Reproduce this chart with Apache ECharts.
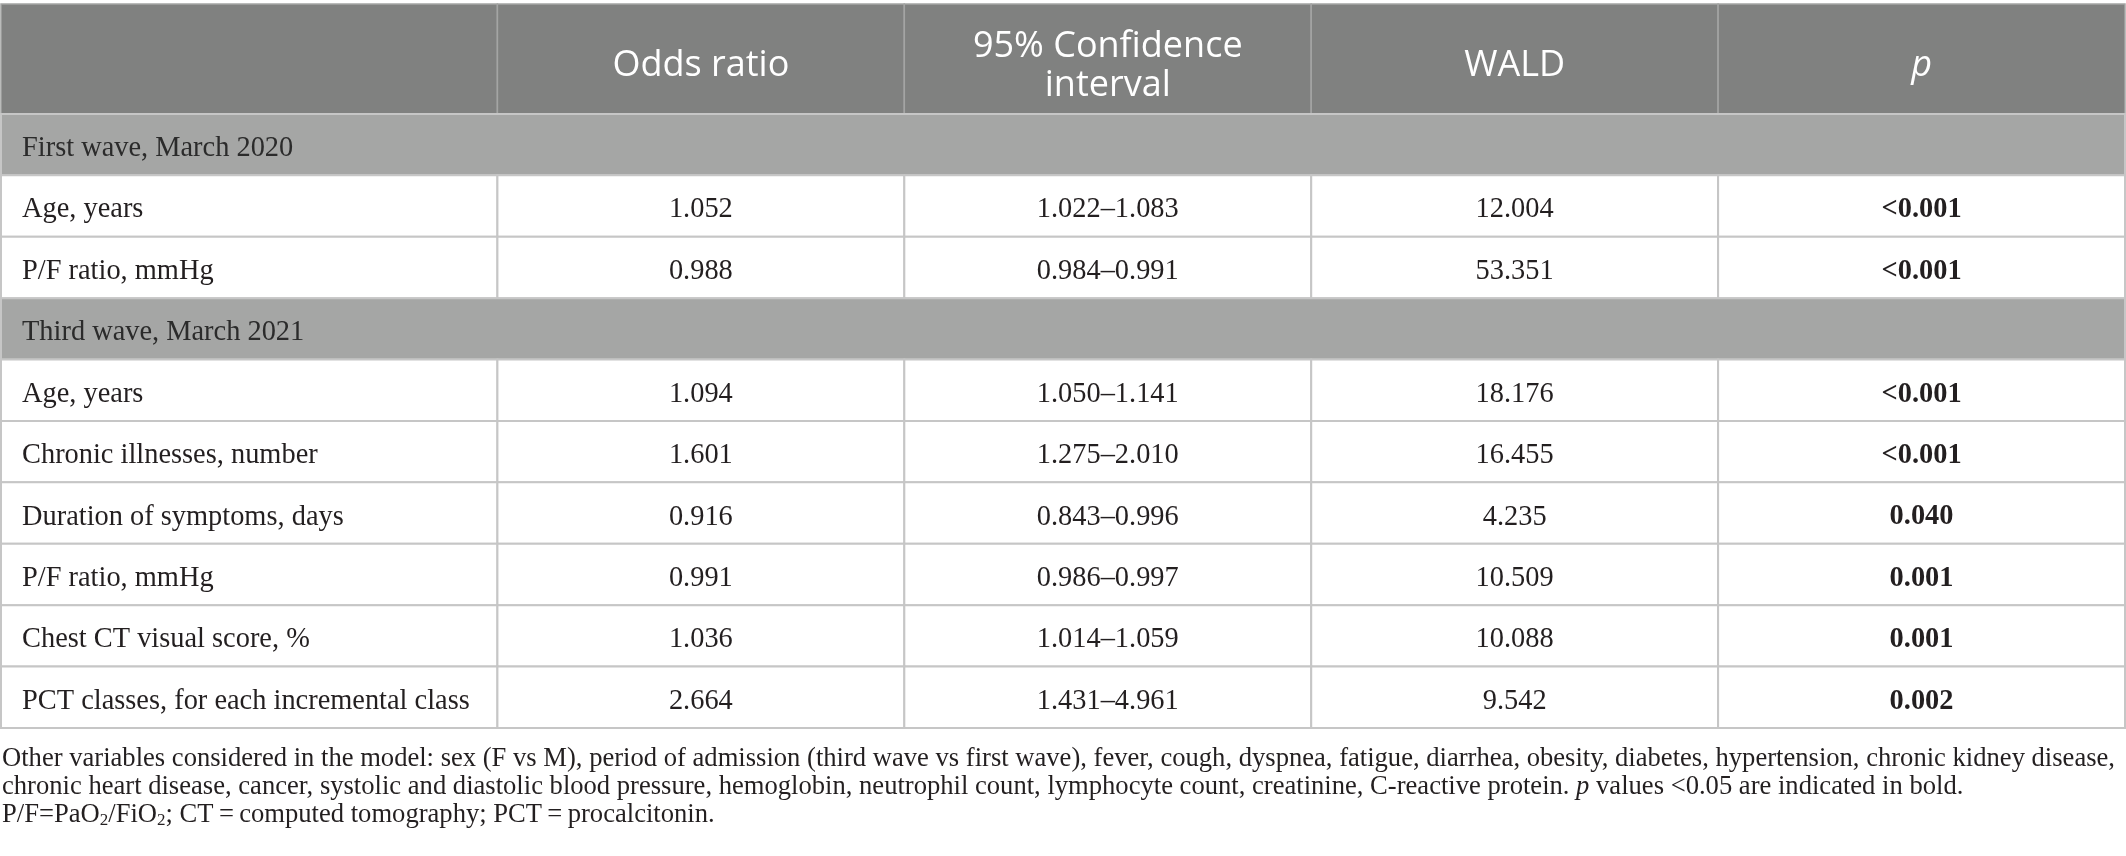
<!DOCTYPE html>
<html>
<head>
<meta charset="utf-8">
<script src="https://cdn.jsdelivr.net/npm/echarts@6/dist/echarts.min.js"></script>
<style>
html,body{margin:0;padding:0;background:#ffffff;}
#chart{width:2126px;height:856px;}
</style>
</head>
<body>
<div id="chart"></div>
<script>
// ---------- data ----------
const columnHeaders = ['', 'Odds ratio', '95% Confidence\ninterval', 'WALD', 'p'];
const groupNames = ['First wave, March 2020', 'Third wave, March 2021'];
const rowGroup = [0, 0, 1, 1, 1, 1, 1, 1];
const variables = [
  'Age, years',
  'P/F ratio, mmHg',
  'Age, years',
  'Chronic illnesses, number',
  'Duration of symptoms, days',
  'P/F ratio, mmHg',
  'Chest CT visual score, %',
  'PCT classes, for each incremental class'
];
const oddsRatios = [1.052, 0.988, 1.094, 1.601, 0.916, 0.991, 1.036, 2.664];
const ciLower = [1.022, 0.984, 1.050, 1.275, 0.843, 0.986, 1.014, 1.431];
const ciUpper = [1.083, 0.991, 1.141, 2.010, 0.996, 0.997, 1.059, 4.961];
const waldValues = [12.004, 53.351, 18.176, 16.455, 4.235, 10.509, 10.088, 9.542];
const pValues = ['<0.001', '<0.001', '<0.001', '<0.001', '0.040', '0.001', '0.001', '0.002'];
const footnoteLines = [
  'Other variables considered in the model: sex (F vs M), period of admission (third wave vs first wave), fever, cough, dyspnea, fatigue, diarrhea, obesity, diabetes, hypertension, chronic kidney disease,',
  'chronic heart disease, cancer, systolic and diastolic blood pressure, hemoglobin, neutrophil count, lymphocyte count, creatinine, C-reactive protein. {i|p} values <0.05 are indicated in bold.',
  'P/F=PaO{s|2}/FiO{s|2}; CT\u2009=\u2009computed tomography; PCT\u2009=\u2009procalcitonin.'
];

// ---------- layout (table geometry in axis units) ----------
const colUnits = [1.22, 1, 1, 1, 1];
const headUnits = 1.79;
const colEdges = [0];
colUnits.forEach(function (u, i) { colEdges.push(colEdges[i] + u); });
const totalX = colEdges[colEdges.length - 1];

// ---------- build cells ----------
const cellData = [];
const cellMeta = [];
function addCell(x0, y0, x1, y1, kind, col, text) {
  cellData.push([x0, y0, x1, y1]);
  cellMeta.push({ kind: kind, col: col, text: text });
}
columnHeaders.forEach(function (h, c) {
  addCell(colEdges[c], 0, colEdges[c + 1], headUnits, 'head', c, h);
});
let yCursor = headUnits;
let lastGroup = -1;
variables.forEach(function (v, i) {
  if (rowGroup[i] !== lastGroup) {
    lastGroup = rowGroup[i];
    addCell(0, yCursor, totalX, yCursor + 1, 'group', 0, groupNames[lastGroup]);
    yCursor += 1;
  }
  const rowTexts = [
    v,
    oddsRatios[i].toFixed(3),
    ciLower[i].toFixed(3) + '\u2013' + ciUpper[i].toFixed(3),
    waldValues[i].toFixed(3),
    pValues[i]
  ];
  rowTexts.forEach(function (t, c) {
    addCell(colEdges[c], yCursor, colEdges[c + 1], yCursor + 1, 'body', c, t);
  });
  yCursor += 1;
});
const totalY = yCursor;

// ---------- styles ----------
const SERIF = '"Liberation Serif", "Times New Roman", serif';
const SANS = '"Open Sans", "Noto Sans", sans-serif';
const TEXT_DARK = '#231f20';

function renderCell(params, api) {
  const m = cellMeta[params.dataIndex];
  const p0 = api.coord([api.value(0), api.value(1)]);
  const p1 = api.coord([api.value(2), api.value(3)]);
  const x = p0[0], y = p0[1], w = p1[0] - p0[0], h = p1[1] - p0[1];
  let fill, stroke, lw;
  const textStyle = { text: m.text, verticalAlign: 'middle' };
  if (m.kind === 'head') {
    fill = '#808180'; stroke = '#a4a5a4'; lw = 1.5;
    Object.assign(textStyle, {
      fill: '#ffffff', fontFamily: SANS, fontSize: 36, lineHeight: 39,
      fontStyle: m.col === 4 ? 'italic' : 'normal',
      align: 'center', x: x + w / 2, y: y + h / 2 + 7
    });
  } else if (m.kind === 'group') {
    fill = '#a5a6a5'; stroke = '#c6c6c6'; lw = 2;
    Object.assign(textStyle, {
      fill: '#2b2b2b', fontFamily: SERIF, fontSize: 28.4,
      align: 'left', x: x + 21, y: y + h / 2 + 4
    });
  } else {
    fill = '#ffffff'; stroke = '#c6c6c6'; lw = 2;
    Object.assign(textStyle, {
      fill: TEXT_DARK, fontFamily: SERIF, fontSize: 28.4,
      fontWeight: m.col === 4 ? 'bold' : 'normal',
      align: m.col === 0 ? 'left' : 'center',
      x: m.col === 0 ? x + 21 : x + w / 2, y: y + h / 2 + 4
    });
  }
  return {
    type: 'group',
    children: [
      { type: 'rect', shape: { x: x, y: y, width: w, height: h },
        style: { fill: fill, stroke: stroke, lineWidth: lw } },
      { type: 'text', style: textStyle }
    ]
  };
}

const chart = echarts.init(document.getElementById('chart'), null, { renderer: 'canvas' });
chart.setOption({
  animation: false,
  backgroundColor: '#ffffff',
  grid: { left: 1, right: 1, top: 4, bottom: 128, containLabel: false },
  xAxis: { type: 'value', min: 0, max: totalX, show: false },
  yAxis: { type: 'value', min: 0, max: totalY, inverse: true, show: false },
  graphic: [{
    type: 'text', left: 2, top: 745,
    style: {
      text: footnoteLines.join('\n'),
      fontFamily: SERIF, fontSize: 26.6, lineHeight: 28, fill: TEXT_DARK,
      rich: {
        i: { fontFamily: SERIF, fontSize: 26.6, fontStyle: 'italic', fill: TEXT_DARK, lineHeight: 28 },
        s: { fontFamily: SERIF, fontSize: 17, fill: TEXT_DARK, lineHeight: 14, verticalAlign: 'bottom' }
      }
    }
  }],
  series: [{
    type: 'custom',
    coordinateSystem: 'cartesian2d',
    encode: { x: [0, 2], y: [1, 3] },
    clip: false,
    data: cellData,
    renderItem: renderCell
  }]
});
</script>
</body>
</html>
